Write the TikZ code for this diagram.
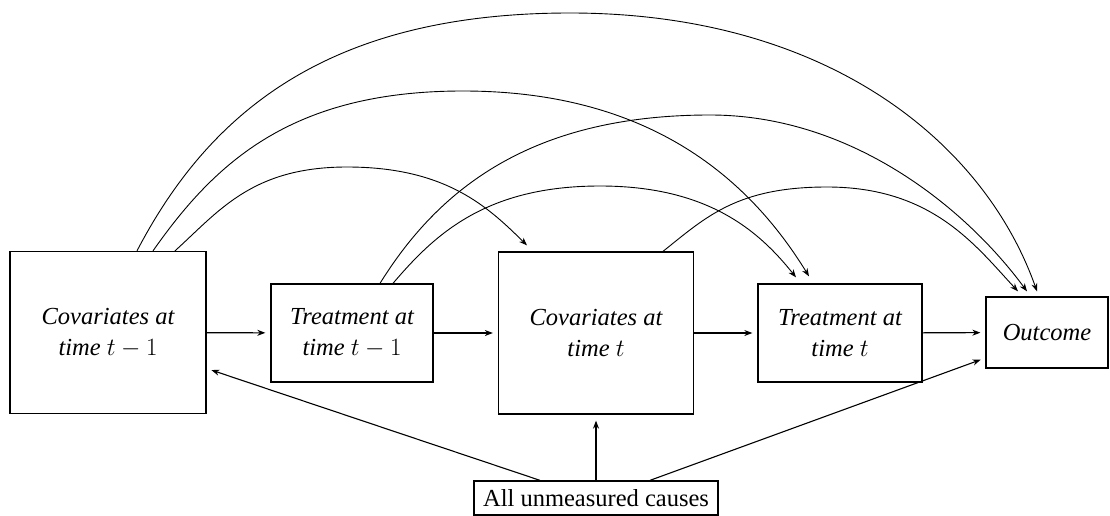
\documentclass[tikz,border=0pt]{standalone}
\usepackage[no-math]{fontspec}
\setmainfont{Liberation Serif}
\usetikzlibrary{arrows.meta}
\begin{document}
\begin{tikzpicture}[x=1pt,y=-1pt,
  box/.style={draw, line width=1.3pt, inner sep=0pt, align=center,
    font=\fontsize{24.5pt}{31pt}\selectfont\itshape},
  conn/.style={line width=1.1pt, -{Stealth[length=8pt,width=6pt,inset=2.5pt]}, shorten >=5pt},
  curve/.style={line width=0.9pt, -{Stealth[length=8pt,width=6pt,inset=2.5pt]}}]
\useasboundingbox (0,0) rectangle (1110,516);
\node[box, minimum width=196pt, minimum height=162pt] (A) at (108,332.5) {Covariates at\\time $t-1$};
\node[box, minimum width=162pt, minimum height=98pt] (B) at (352,333) {Treatment at\\time $t-1$};
\node[box, minimum width=195pt, minimum height=162pt] (C) at (596,333) {Covariates at\\time $t$};
\node[box, minimum width=164pt, minimum height=98pt] (D) at (840,333) {Treatment at\\time $t$};
\node[box, minimum width=122pt, minimum height=71pt] (E) at (1047,332.5) {Outcome};
\node[box, minimum width=244pt, minimum height=34pt, font=\fontsize{24.5pt}{31pt}\selectfont] (F) at (596,498) {All unmeasured causes};
% horizontal chain
\draw[conn] (A) -- (B);
\draw[conn] (B) -- (C);
\draw[conn] (C) -- (D);
\draw[conn] (D) -- (E);
% unmeasured causes
\draw[conn] ([xshift=-56pt]F.north) -- ([yshift=-36pt]A.east);
\draw[conn, shorten >=6pt] (F.north) -- (C.south);
\draw[conn] ([xshift=54pt]F.north) -- ([yshift=-25.5pt]E.west);
% curves from covariates t-1
\draw[curve] ([xshift=29pt]A.north) .. controls (211,109) and (332,13) .. (570,13)
  .. controls (827,13) and (984,142) .. ([xshift=-10pt,yshift=5pt]E.north);
\draw[curve] ([xshift=45pt]A.north) .. controls (216,161) and (293,91) .. (463,91)
  .. controls (653,91) and (751,182) .. ([xshift=-31pt,yshift=7pt]D.north);
\draw[curve] ([xshift=67pt]A.north) .. controls (219,211) and (252,167) .. (347,167)
  .. controls (446,167) and (488,207) .. ([xshift=-69pt,yshift=6pt]C.north);
% curves from treatment t-1
\draw[curve] ([xshift=28pt]B.north) .. controls (438,190) and (530,115) .. (710,115)
  .. controls (850,115) and (964,206) .. ([xshift=-20pt,yshift=5pt]E.north);
\draw[curve] ([xshift=41pt]B.north) .. controls (435,234) and (486,186) .. (600,186)
  .. controls (708,186) and (759,231) .. ([xshift=-44pt,yshift=6pt]D.north);
% curve from covariates t
\draw[curve] ([xshift=67pt]C.north) .. controls (706,217) and (737,187) .. (827,187)
  .. controls (932,187) and (975,245) .. ([xshift=-29pt,yshift=5pt]E.north);
\end{tikzpicture}
\end{document}
